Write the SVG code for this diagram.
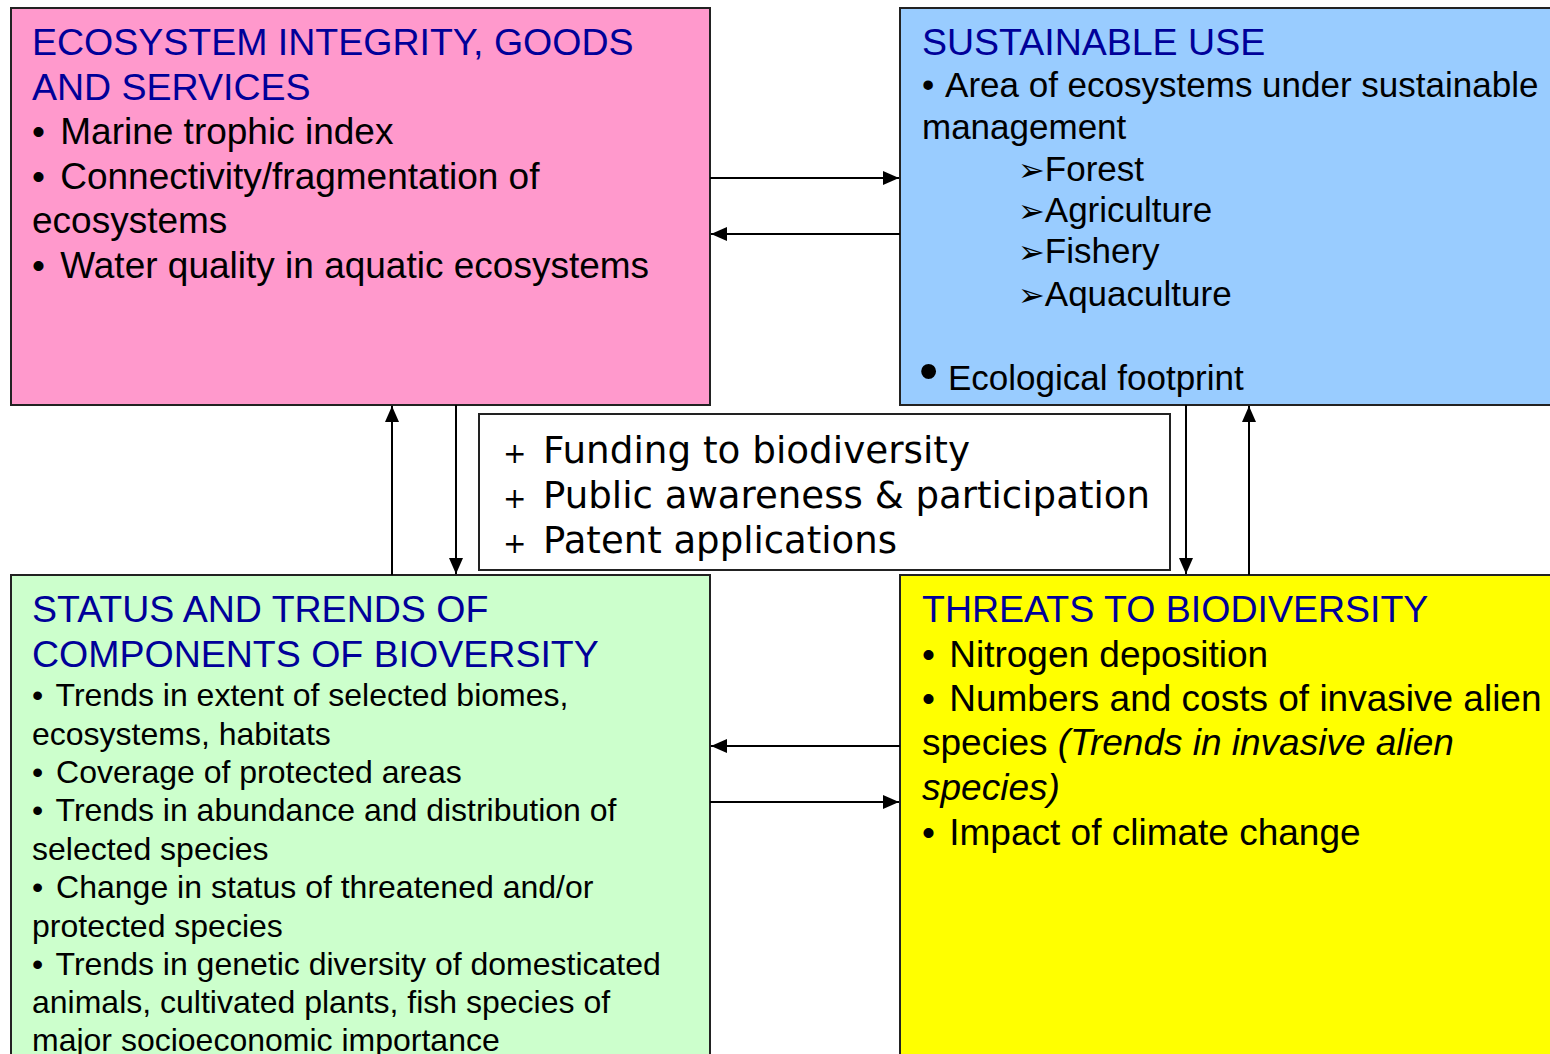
<svg xmlns="http://www.w3.org/2000/svg" width="1550" height="1054" viewBox="0 0 1550 1054">
<style>
.box{stroke:#222;stroke-width:2}
.h{font-family:"Liberation Sans",Arial,sans-serif;font-size:37.5px;fill:#000099}
.b37{font-family:"Liberation Sans",Arial,sans-serif;font-size:37px;fill:#000}
.b35{font-family:"Liberation Sans",Arial,sans-serif;font-size:35px;fill:#000}
.b32{font-family:"Liberation Sans",Arial,sans-serif;font-size:32px;fill:#000}
.m{font-family:"DejaVu Sans",sans-serif;font-size:38px;fill:#000}
.p{font-family:"DejaVu Sans",sans-serif;font-size:28px;fill:#000}
.ar{font-family:"DejaVu Sans",sans-serif;font-size:32px}
.arr{stroke:#000;stroke-width:2;fill:none;marker-end:url(#ah)}
</style>
<defs>
<marker id="ah" viewBox="0 0 16 14" refX="16" refY="7" markerWidth="16" markerHeight="14" markerUnits="userSpaceOnUse" orient="auto">
<path d="M0,0 L16,7 L0,14 Z" fill="#000"/>
</marker>
</defs>
<rect width="1550" height="1054" fill="#fff"/>
<g id="ecosystem">
<rect class="box" x="11" y="8" width="699" height="397" fill="#FF99CC"/>
<text class="h" x="32" y="55">ECOSYSTEM INTEGRITY, GOODS</text>
<text class="h" x="32" y="100">AND SERVICES</text>
<text class="b37" x="32" y="144">• <tspan dx="5">Marine trophic index</tspan></text>
<text class="b37" x="32" y="189">• <tspan dx="5">Connectivity/fragmentation of</tspan></text>
<text class="b37" x="32" y="233">ecosystems</text>
<text class="b37" x="32" y="278">• <tspan dx="5">Water quality in aquatic ecosystems</tspan></text>
</g>
<g id="sustainable">
<rect class="box" x="900" y="8" width="660" height="397" fill="#99CCFF"/>
<text class="h" x="922" y="55">SUSTAINABLE USE</text>
<text class="b35" x="922" y="97">• <tspan dx="3">Area of ecosystems under sustainable</tspan></text>
<text class="b35" x="922" y="139">management</text>
<text class="b35" x="1018" y="181"><tspan class="ar">➢</tspan>Forest</text>
<text class="b35" x="1018" y="222"><tspan class="ar">➢</tspan>Agriculture</text>
<text class="b35" x="1018" y="263"><tspan class="ar">➢</tspan>Fishery</text>
<text class="b35" x="1018" y="306"><tspan class="ar">➢</tspan>Aquaculture</text>
<text class="b35" x="919" y="390"><tspan font-size="55">•</tspan> Ecological footprint</text>
</g>
<g id="status">
<rect class="box" x="11" y="575" width="699" height="500" fill="#CCFFCC"/>
<text class="h" x="32" y="622">STATUS AND TRENDS OF</text>
<text class="h" x="32" y="667">COMPONENTS OF BIOVERSITY</text>
<text class="b32" x="32" y="706">• <tspan dx="4">Trends in extent of selected biomes,</tspan></text>
<text class="b32" x="32" y="745">ecosystems, habitats</text>
<text class="b32" x="32" y="783">• <tspan dx="4">Coverage of protected areas</tspan></text>
<text class="b32" x="32" y="821">• <tspan dx="4">Trends in abundance and distribution of</tspan></text>
<text class="b32" x="32" y="860">selected species</text>
<text class="b32" x="32" y="898">• <tspan dx="4">Change in status of threatened and/or</tspan></text>
<text class="b32" x="32" y="937">protected species</text>
<text class="b32" x="32" y="975">• <tspan dx="4">Trends in genetic diversity of domesticated</tspan></text>
<text class="b32" x="32" y="1013">animals, cultivated plants, fish species of</text>
<text class="b32" x="32" y="1051">major socioeconomic importance</text>
</g>
<g id="threats">
<rect class="box" x="900" y="575" width="660" height="500" fill="#FFFF00"/>
<text class="h" x="922" y="622">THREATS TO BIODIVERSITY</text>
<text class="b37" x="922" y="667">• <tspan dx="4">Nitrogen deposition</tspan></text>
<text class="b37" x="922" y="711">• <tspan dx="4">Numbers and costs of invasive alien</tspan></text>
<text class="b37" x="922" y="755">species <tspan font-style="italic">(Trends in invasive alien</tspan></text>
<text class="b37" x="922" y="800" font-style="italic">species)</text>
<text class="b37" x="922" y="845">• <tspan dx="4">Impact of climate change</tspan></text>
</g>
<g id="other">
<rect x="479" y="414" width="691" height="156" fill="#fff" stroke="#222" stroke-width="2"/>
<text class="p" x="503" y="463">+</text>
<text class="m" x="543" y="463" textLength="427" lengthAdjust="spacingAndGlyphs">Funding to biodiversity</text>
<text class="p" x="503" y="508">+</text>
<text class="m" x="543" y="508" textLength="607" lengthAdjust="spacingAndGlyphs">Public awareness &amp; participation</text>
<text class="p" x="503" y="553">+</text>
<text class="m" x="543" y="553" textLength="354" lengthAdjust="spacingAndGlyphs">Patent applications</text>
</g>
<g id="connectors">
<line class="arr" x1="710" y1="178" x2="899" y2="178"/>
<line class="arr" x1="900" y1="234" x2="711" y2="234"/>
<line class="arr" x1="900" y1="746" x2="711" y2="746"/>
<line class="arr" x1="710" y1="802" x2="899" y2="802"/>
<line class="arr" x1="392" y1="575" x2="392" y2="406"/>
<line class="arr" x1="456" y1="405" x2="456" y2="574"/>
<line class="arr" x1="1186" y1="405" x2="1186" y2="574"/>
<line class="arr" x1="1249" y1="575" x2="1249" y2="406"/>
</g>
</svg>
